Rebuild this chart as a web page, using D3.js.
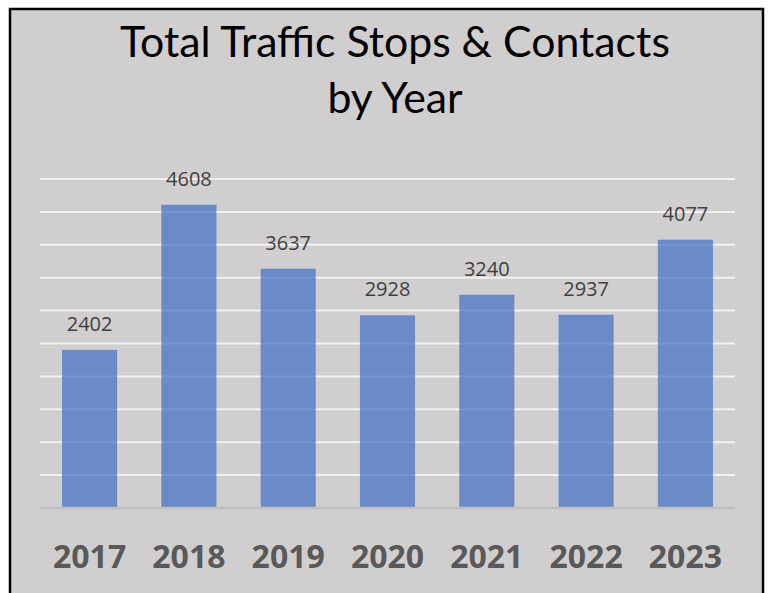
<!DOCTYPE html>
<html><head><meta charset="utf-8">
<script src="https://cdn.jsdelivr.net/npm/d3@7"></script>
<style>html,body{margin:0;padding:0;background:#fff;}</style>
</head><body>
<script>
const years = ["2017","2018","2019","2020","2021","2022","2023"];
const stops = [2402, 4608, 3637, 2928, 3240, 2937, 4077];
const gridTicks = [500,1000,1500,2000,2500,3000,3500,4000,4500,5000];
const titleLines = ["Total Traffic Stops & Contacts", "by Year"];

const W = 770, H = 593;
const svg = d3.select("body").append("svg").attr("width", W).attr("height", H);

// frame
svg.append("rect").attr("x", 10).attr("y", 9).attr("width", 753).attr("height", 620)
  .attr("fill", "#d0cece").attr("stroke", "#000").attr("stroke-width", 2.5);

const x = d3.scaleBand().domain(years).range([40, 735]).paddingInner(0.445).paddingOuter(0.222);
const y = d3.scaleLinear().domain([0, 5000]).range([508, 179]);

// gridlines
svg.append("g").selectAll("line").data(gridTicks).join("line")
  .attr("x1", 40).attr("x2", 735)
  .attr("y1", d => y(d)).attr("y2", d => y(d))
  .attr("stroke", "#f2f2f2").attr("stroke-width", 2);

// bars
svg.append("g").selectAll("rect").data(stops).join("rect")
  .attr("x", (d, i) => x(years[i]))
  .attr("width", x.bandwidth())
  .attr("y", d => y(d))
  .attr("height", d => y(0) - y(d))
  .attr("fill", "#4472c4").attr("fill-opacity", 0.73);

// baseline
svg.append("line").attr("x1", 40).attr("x2", 735).attr("y1", y(0)).attr("y2", y(0))
  .attr("stroke", "#bfbfbf").attr("stroke-width", 2.5);

// value labels
svg.append("g").selectAll("text").data(stops).join("text")
  .attr("x", (d, i) => x(years[i]) + x.bandwidth() / 2)
  .attr("y", d => y(d) - 19)
  .attr("text-anchor", "middle")
  .attr("font-family", "'Open Sans', sans-serif")
  .attr("font-size", 20)
  .attr("fill", "#404040")
  .text(d => d);

// x axis
const xAxis = svg.append("g").attr("transform", `translate(0,${y(0)})`)
  .call(d3.axisBottom(x).tickSize(0).tickPadding(0));
xAxis.select(".domain").remove();
xAxis.selectAll("text")
  .attr("dy", null).attr("y", 60)
  .attr("font-family", "'Open Sans', sans-serif")
  .attr("font-weight", "bold")
  .attr("font-size", 32)
  .attr("fill", "#595959");

// title
const title = svg.append("g");
title.selectAll("text").data(titleLines).join("text")
  .attr("x", 395)
  .attr("y", (d, i) => 57 + i * 56)
  .attr("text-anchor", "middle")
  .attr("font-family", "Lato, 'Open Sans', sans-serif")
  .attr("font-size", 40)
  .attr("fill", "#000")
  .text(d => d);
// fit first line width to ~550px
const t0 = title.select("text").node();
const w0 = t0.getComputedTextLength();
const fs = 40 * 550 / w0;
title.selectAll("text").attr("font-size", fs);
</script>
</body></html>
